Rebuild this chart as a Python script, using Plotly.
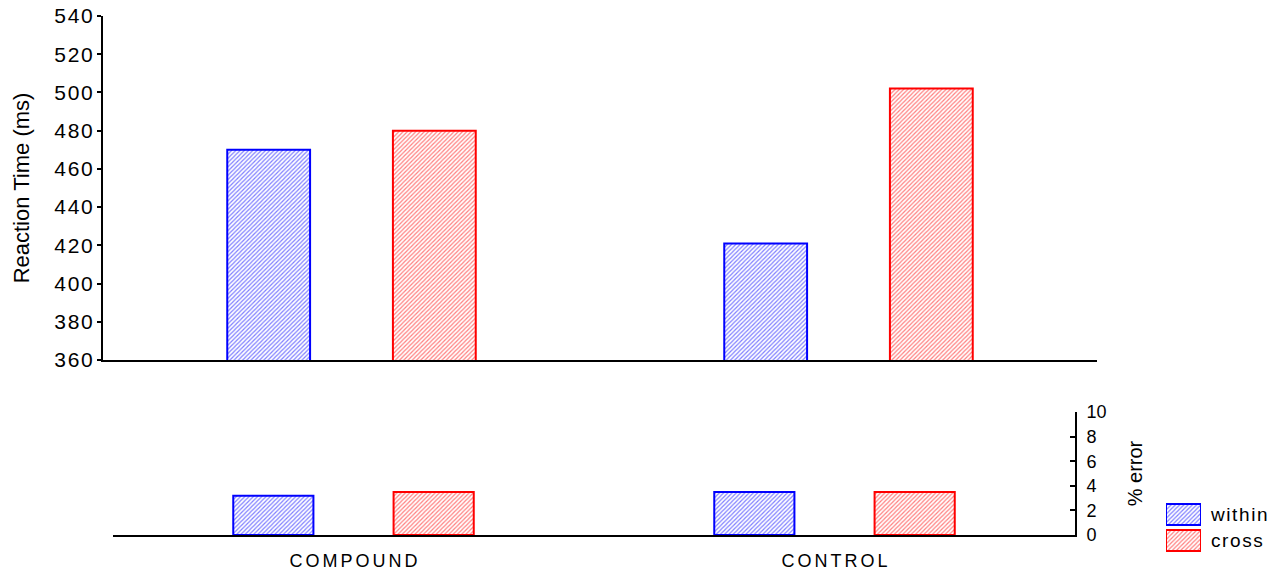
import plotly.graph_objects as go

# Condition labels and measured values
conditions = ["COMPOUND", "CONTROL"]
series_names = ["within", "cross"]
rt_within = [470, 421]
rt_cross = [480, 502]
err_within = [3.2, 3.5]
err_cross = [3.5, 3.5]

rt_ticks = [360, 380, 400, 420, 440, 460, 480, 500, 520, 540]
err_ticks = [0, 2, 4, 6, 8, 10]

W, H = 1272, 577
FONT = "Liberation Sans"
colors = {"within": "#0000ff", "cross": "#ff0000"}


def px_x(v):
    return v / W


def px_y(v):
    return 1 - v / H


def spaced(s, gap="\u200a"):
    return gap.join(s)


def bar_style(name):
    c = colors[name]
    return dict(
        color="white",
        line=dict(color=c, width=2),
        pattern=dict(shape="/", size=3, solidity=0.4, fgcolor=c,
                     bgcolor="white", fillmode="overlay"),
    )


fig = go.Figure()

# Reaction time panel
offsets = {"within": -0.25, "cross": 1 / 12}
bw = 1 / 6
for name, vals in (("within", rt_within), ("cross", rt_cross)):
    fig.add_trace(go.Bar(x=conditions, y=vals, name=name, xaxis="x", yaxis="y",
                         offset=offsets[name], width=bw,
                         marker=bar_style(name), showlegend=False))

# Error rate panel
for name, vals in (("within", err_within), ("cross", err_cross)):
    fig.add_trace(go.Bar(x=conditions, y=vals, name=name, xaxis="x2", yaxis="y2",
                         offset=offsets[name], width=bw,
                         marker=bar_style(name), showlegend=False))

# Key swatches
for name in series_names:
    fig.add_trace(go.Bar(x=[1], y=[name], orientation="h", xaxis="x3", yaxis="y3",
                         width=0.8, marker=bar_style(name), showlegend=False))

fig.update_layout(
    width=W, height=H,
    margin=dict(l=0, r=0, t=0, b=0),
    paper_bgcolor="white", plot_bgcolor="white",
    barmode="overlay",
    font=dict(family=FONT, color="black", size=20),
    xaxis=dict(domain=[px_x(103), px_x(1097)], range=[-0.5, 1.5],
               showticklabels=False, ticks="", showline=True, linecolor="black",
               linewidth=2, showgrid=False, zeroline=False, anchor="y",
               automargin=False),
    yaxis=dict(domain=[px_y(360), px_y(16)], range=[360, 540], tickvals=rt_ticks,
               ticktext=[spaced(str(t)) for t in rt_ticks],
               ticks="outside", ticklen=4, tickwidth=1.5, tickcolor="black",
               showline=True, linecolor="black", linewidth=2, showgrid=False,
               zeroline=False, anchor="x", automargin=False,
               tickfont=dict(size=21, family=FONT),
               title=dict(text="Reaction Time (ms)", font=dict(size=22, family=FONT),
                          standoff=19)),
    xaxis2=dict(domain=[px_x(113), px_x(1075)], range=[-0.5, 1.5],
                tickvals=conditions,
                ticktext=[spaced(c, "\u200a\u200a") for c in conditions],
                ticks="", showline=True, linecolor="black", linewidth=2,
                showgrid=False, zeroline=False, anchor="y2", automargin=False,
                ticklabelstandoff=8,
                tickfont=dict(size=18, family=FONT)),
    yaxis2=dict(domain=[px_y(535), px_y(412)], range=[0, 10], tickvals=err_ticks,
                side="right", ticks="inside", ticklen=5, tickwidth=1.5,
                tickcolor="black", showline=True, linecolor="black", linewidth=2,
                showgrid=False, zeroline=False, anchor="x2", automargin=False,
                ticklabelstandoff=6,
                tickfont=dict(size=18, family=FONT),
                title=dict(text="% error", font=dict(size=20, family=FONT),
                           standoff=22)),
    xaxis3=dict(domain=[px_x(1166), px_x(1201)], range=[0, 1], visible=False,
                anchor="y3", automargin=False),
    yaxis3=dict(domain=[px_y(553.5), px_y(501.5)], categoryorder="array",
                categoryarray=series_names, autorange="reversed", side="right",
                ticks="", showline=False, showgrid=False, zeroline=False,
                anchor="x3", ticklabelstandoff=9, automargin=False,
                tickvals=series_names,
                ticktext=[spaced(s) for s in series_names],
                tickfont=dict(size=19, family=FONT)),
)

fig.write_html("out.html")
